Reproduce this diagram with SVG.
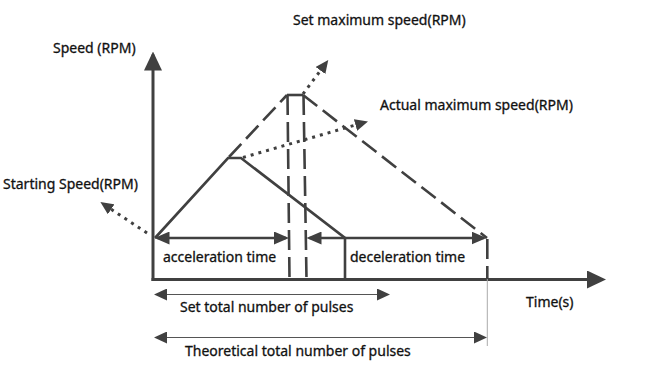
<svg xmlns="http://www.w3.org/2000/svg" width="666" height="372" viewBox="0 0 666 372">
<style>
.ln{stroke:#404040;fill:none;stroke-width:2.6}
.ax{stroke:#404040;fill:none;stroke-width:3}
.dash{stroke:#404040;fill:none;stroke-width:2.6;stroke-dasharray:18 7}
.vdash{stroke:#404040;fill:none;stroke-width:2.6;stroke-dasharray:20 7}
.dot{stroke:#404040;fill:none;stroke-width:3;stroke-dasharray:3 5}
.thin{stroke:#555;fill:none;stroke-width:1}
.txt{font-family:"Noto Sans","Open Sans","Liberation Sans",sans-serif;font-size:14px;fill:#111;stroke:#111;stroke-width:0.3}
</style>
<defs>
<marker id="ah" markerUnits="userSpaceOnUse" markerWidth="19" markerHeight="18" refX="16" refY="9" orient="auto"><path d="M0,0 L19,9 L0,18 z" fill="#404040"/></marker>
<marker id="mh" markerUnits="userSpaceOnUse" markerWidth="15" markerHeight="13" refX="12" refY="6.5" orient="auto-start-reverse"><path d="M0,0 L15,6.5 L0,13 z" fill="#404040"/></marker>
<marker id="sh" markerUnits="userSpaceOnUse" markerWidth="13" markerHeight="12" refX="12" refY="6" orient="auto-start-reverse"><path d="M0,0 L13,6 L0,12 z" fill="#404040"/></marker>
<marker id="dh" markerUnits="userSpaceOnUse" markerWidth="13" markerHeight="12" refX="0" refY="6" orient="auto"><path d="M0,0 L13,6 L0,12 z" fill="#404040"/></marker>
</defs>

<g id="axes">
<line class="ax" x1="153" y1="281" x2="153" y2="54.5" marker-end="url(#ah)"/>
<line class="ax" x1="151.5" y1="279.5" x2="603" y2="279.5" marker-end="url(#ah)"/>
</g>

<g id="actual-profile">
<polyline class="ln" points="155,238 228,158 241,158 345,238 345,279"/>
</g>

<g id="theoretical-profile">
<line class="dash" x1="229" y1="157" x2="287" y2="95"/>
<line class="ln" x1="287" y1="95" x2="303" y2="95"/>
<line class="dash" x1="303" y1="95" x2="487" y2="238"/>
<line class="vdash" x1="287.5" y1="95" x2="289.5" y2="279"/>
<line class="vdash" x1="303.5" y1="95" x2="306.5" y2="279"/>
<line class="vdash" x1="487.3" y1="239" x2="487.3" y2="279"/>
<line stroke="#aaa" stroke-width="1" x1="487.3" y1="279" x2="487.3" y2="346"/>
</g>

<g id="connectors">
<line class="ln" x1="157.5" y1="238" x2="286" y2="238" marker-start="url(#mh)" marker-end="url(#mh)"/>
<line class="ln" x1="309.5" y1="238" x2="483.5" y2="238" marker-start="url(#mh)" marker-end="url(#mh)"/>
<line class="thin" x1="155" y1="294.5" x2="389" y2="294.5" marker-start="url(#sh)" marker-end="url(#sh)"/>
<line class="thin" x1="155" y1="337.5" x2="486" y2="337.5" marker-start="url(#sh)" marker-end="url(#sh)"/>
<line class="dot" x1="303" y1="94" x2="320.5" y2="70.5" marker-end="url(#dh)"/>
<line class="dot" x1="243" y1="157.5" x2="355.5" y2="125" marker-end="url(#dh)"/>
<line class="dot" x1="147" y1="233" x2="111.2" y2="209.3" marker-end="url(#dh)"/>
</g>

<g id="labels">
<text class="txt" x="53" y="53">Speed (RPM)</text>
<text class="txt" x="293" y="25">Set maximum speed(RPM)</text>
<text class="txt" x="380" y="109.5">Actual maximum speed(RPM)</text>
<text class="txt" x="3" y="188.5">Starting Speed(RPM)</text>
<text class="txt" x="163" y="261.5">acceleration time</text>
<text class="txt" x="350" y="262">deceleration time</text>
<text class="txt" x="180" y="312">Set total number of pulses</text>
<text class="txt" x="526" y="306.5">Time(s)</text>
<text class="txt" x="185" y="356">Theoretical total number of pulses</text>
</g>
</svg>
